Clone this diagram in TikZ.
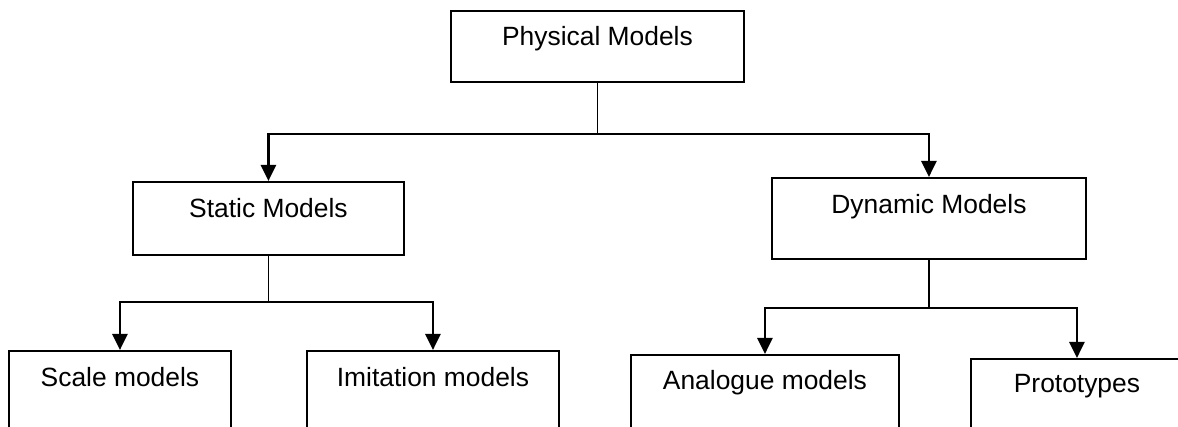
\documentclass[tikz,border=0pt]{standalone}
\usepackage{fontspec}
\setmainfont{Liberation Sans}
\usetikzlibrary{arrows.meta}
\tikzset{
  modelbox/.style={draw, line width=1.9pt, anchor=north west, inner sep=0pt,
    font=\fontsize{26.4}{30}\selectfont},
  stem/.style={line width=1.9pt},
  link/.style={line width=2.6pt, -{Triangle[length=16pt,width=15pt]}}
}
\begin{document}
\begin{tikzpicture}[x=1pt, y=-1pt]
  \useasboundingbox (0,0) rectangle (1178,427);
  \clip (0,0) rectangle (1178,427);
  % boxes
  \node[modelbox, minimum width=293pt, text height=35pt, text depth=36pt] (phys) at (450,10) {Physical Models};
  \node[modelbox, minimum width=271pt, text height=36pt, text depth=37pt] (static) at (132,181) {Static Models};
  \node[modelbox, minimum width=314pt, text height=36pt, text depth=45pt] (dyn) at (771,177) {Dynamic Models};
  \node[modelbox, minimum width=222pt, text height=36pt, text depth=60pt] (scale) at (8,350) {Scale models};
  \node[modelbox, minimum width=252pt, text height=36pt, text depth=60pt] (imit) at (306,350) {Imitation models};
  \node[modelbox, minimum width=268pt, text height=35pt, text depth=60pt] (analog) at (630,354) {Analogue models};
  \node[modelbox, minimum width=212pt, text height=34pt, text depth=60pt] (proto) at (970,358) {Prototypes};
  % junctions
  \coordinate (j1) at (phys.south |- 0,134);
  \coordinate (j2) at (static.south |- 0,302);
  \coordinate (j3) at (dyn.south |- 0,308);
  % connectors
  \draw[stem] (phys.south) -- (j1);
  \draw[link] (j1) -| (static.north);
  \draw[link] (j1) -| (dyn.north);
  \draw[stem] (static.south) -- (j2);
  \draw[link] (j2) -| (scale.north);
  \draw[link] (j2) -| (imit.north);
  \draw[stem] (dyn.south) -- (j3);
  \draw[link] (j3) -| (analog.north);
  \draw[link] (j3) -| (proto.north);
\end{tikzpicture}
\end{document}
